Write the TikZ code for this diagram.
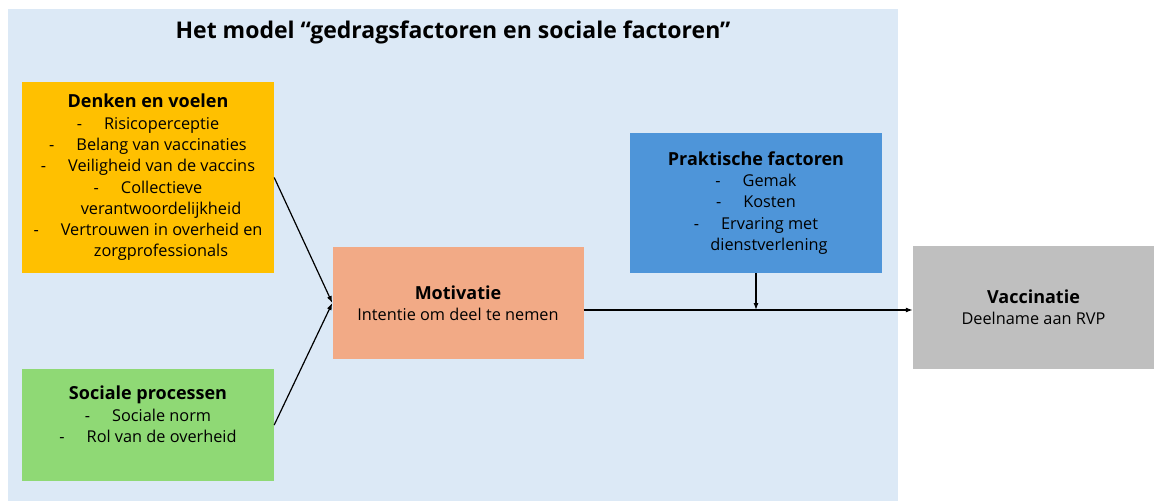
\documentclass[tikz,border=0pt]{standalone}
\usepackage{fontspec}
\setmainfont{Open Sans}
\usetikzlibrary{arrows.meta}
\definecolor{bgblue}{HTML}{DCE9F6}
\definecolor{orangebox}{HTML}{FFC000}
\definecolor{greenbox}{HTML}{8FD975}
\definecolor{salmonbox}{HTML}{F2AA86}
\definecolor{bluebox}{HTML}{4E95D9}
\definecolor{graybox}{HTML}{BFBFBF}
\newcommand{\bul}[1]{-\hspace{22pt}#1}
\newcommand{\cont}[1]{\hspace*{26pt}#1}
\newcommand{\hd}[1]{{\fontsize{18}{21.3}\selectfont\bfseries #1}}
\begin{document}
\begin{tikzpicture}[x=1pt,y=-1pt,
  box/.style={inner sep=0pt, align=center, text=black,
    font=\fontsize{16.3}{21.3}\selectfont},
  link/.style={line width=1.2pt, -{Latex[length=7pt,width=5pt]}}]
\fill[white] (0,0) rectangle (1154,501);
\useasboundingbox (0,0) rectangle (1154,501);
\fill[bgblue] (8,9) rectangle (898,501);
\node[font=\fontsize{23}{26}\selectfont\bfseries] (title) at (453,32)
  {Het model “gedragsfactoren en sociale factoren”};
\node[box, fill=orangebox, minimum width=252pt, minimum height=191pt] (denken) at (148,177.5)
  {\hd{Denken en voelen}\\
   \bul{Risicoperceptie}\\
   \bul{Belang van vaccinaties}\\
   \bul{Veiligheid van de vaccins}\\
   \bul{Collectieve}\\
   \cont{verantwoordelijkheid}\\
   \bul{Vertrouwen in overheid en}\\
   \cont{zorgprofessionals}};
\node[box, fill=greenbox, minimum width=252pt, minimum height=112pt] (sociaal) at (148,425)
  {\hd{Sociale processen}\\
   \bul{Sociale norm}\\
   \bul{Rol van de overheid}\\
   \mbox{}};
\node[box, fill=salmonbox, minimum width=251pt, minimum height=112pt] (motiv) at (458,303)
  {\hd{Motivatie}\\
   Intentie om deel te nemen};
\node[box, fill=bluebox, minimum width=252pt, minimum height=140pt] (prakt) at (756,203)
  {\hd{Praktische factoren}\\
   \bul{Gemak}\\
   \bul{Kosten}\\
   \bul{Ervaring met}\\
   \cont{dienstverlening}};
\node[box, fill=graybox, minimum width=241pt, minimum height=123pt] (vacc) at (1033.5,307.5)
  {\hd{Vaccinatie}\\
   Deelname aan RVP};
\coordinate (mstart) at ([yshift=-7pt]motiv.east);
\coordinate (junct) at (prakt.south |- mstart);
\draw[link] (denken.east) -- (motiv.west);
\draw[link] (sociaal.east) -- (motiv.west);
\draw[link] (mstart) -- (vacc.west |- mstart);
\draw[link] (prakt.south) -- (junct);
\end{tikzpicture}
\end{document}
